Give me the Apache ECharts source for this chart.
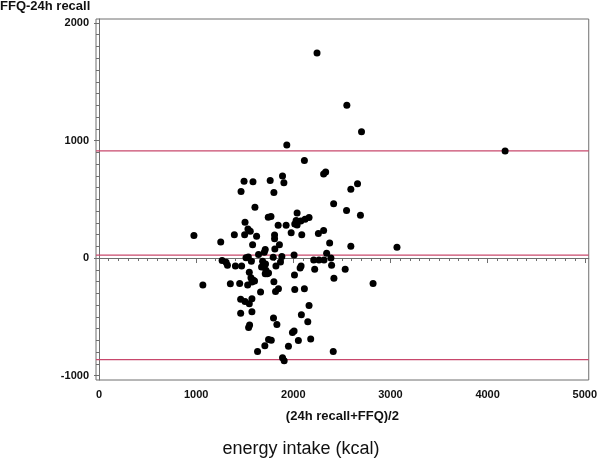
<!DOCTYPE html>
<html>
<head>
<meta charset="utf-8">
<script src="https://cdn.jsdelivr.net/npm/echarts@6/dist/echarts.min.js"></script>
<style>html,body{margin:0;padding:0;background:#fff}#c{width:600px;height:460px}</style>
</head>
<body>
<div id="c"></div>
<script>
// mean of (24h recall + FFQ)/2
var meanIntake = [977,1069,1253,1267,1308,1322,1352,1393,1404,1448,1458,1458,1462,1468,1493,1499,1503,1503,1513,1530,1533,1537,1540,1547,1547,1550,1557,1564,1568,1574,1574,1574,1581,1585,1588,1601,1605,1622,1632,1642,1663,1673,1684,1701,1707,1711,1711,1714,1718,1732,1742,1745,1745,1762,1770,1773,1793,1796,1800,1800,1807,1807,1810,1817,1821,1831,1844,1847,1857,1868,1882,1889,1889,1903,1906,1926,1933,1950,1978,1991,2008,2008,2012,2015,2015,2029,2039,2039,2052,2070,2077,2080,2083,2087,2114,2114,2121,2149,2162,2162,2179,2210,2220,2244,2258,2264,2312,2312,2316,2333,2343,2374,2387,2394,2411,2415,2418,2534,2548,2551,2592,2592,2661,2691,2702,2821,3067,4180];
// difference FFQ - 24h recall
var diffIntake = [191,-230,136,-22,-37,-62,-218,199,-68,-216,-350,-469,566,-68,654,199,304,-369,3,-230,247,9,-591,-389,-122,-571,228,-167,-28,-205,-346,-457,114,648,-190,-196,432,185,-795,30,-290,-77,-28,49,-747,72,-133,-51,-105,-133,347,-128,-693,660,353,-699,6,-511,557,-201,196,165,77,-284,-68,-565,279,-261,114,-34,14,699,-849,640,-875,279,961,-750,216,-633,26,-622,-145,290,-267,319,384,281,-702,-85,316,-68,-483,199,830,-261,330,-542,344,-403,-690,-17,-96,1745,208,-17,716,234,-17,731,40,128,0,-62,-795,462,-172,-96,404,1299,586,100,631,364,1074,-216,91,910];
// mean difference and limits of agreement
var limitLines = [912, 24, -864];
var xTickLabels = [0, 1000, 2000, 3000, 4000, 5000];
var yTickLabels = [-1000, 0, 1000, 2000];

var xMinor = [], yMinor = [];
for (var v = 0; v <= 5000; v += 100) { if (v % 1000 !== 0) xMinor.push(v); }
for (var w = -1000; w <= 2000; w += 100) { if (w % 1000 !== 0) yMinor.push(w); }

var points = meanIntake.map(function (m, i) { return [m, diffIntake[i]]; });

var FONT = "'Liberation Sans', Arial, sans-serif";
var axisCol = '#6e6e6e';
var lineCol = '#c8486c';
var XMIN = -31, XMAX = 5041, YMIN = -1038, YMAX = 2034;
var plain = function (val) { return String(val); };
var blank = function () { return ''; };

var limitSeries = limitLines.map(function (l) {
  return {
    type: 'line', xAxisIndex: 0, yAxisIndex: 0,
    data: [[XMIN, l], [XMAX, l]],
    symbol: 'none', silent: true, z: 2,
    lineStyle: {color: lineCol, width: 1.3, type: 'solid'},
    itemStyle: {color: lineCol},
    emphasis: {disabled: true}
  };
});

var chart = echarts.init(document.getElementById('c'), null, {renderer: 'canvas'});
chart.setOption({
  animation: false,
  backgroundColor: '#fff',
  title: [
    {text: 'FFQ-24h recall', left: 0, top: 0, padding: 0,
     textStyle: {fontFamily: FONT, fontSize: 13, fontWeight: 'bold', color: '#111'}},
    {text: 'energy intake (kcal)', left: 301, top: 440, padding: 0, textAlign: 'center',
     textStyle: {fontFamily: FONT, fontSize: 18, fontWeight: 'normal', color: '#111'}}
  ],
  grid: {left: 96, right: 9, top: 19, bottom: 80, show: true,
         borderColor: axisCol, borderWidth: 1, backgroundColor: 'transparent'},
  xAxis: [
    {type: 'value', min: XMIN, max: XMAX, position: 'bottom',
     name: '(24h recall+FFQ)/2', nameLocation: 'middle', nameGap: 30,
     nameTextStyle: {fontFamily: FONT, fontSize: 13, fontWeight: 'bold', color: '#111'},
     axisLine: {show: true, lineStyle: {color: axisCol, width: 1}},
     axisTick: {show: true, length: 5, customValues: xTickLabels, lineStyle: {color: axisCol}},
     axisLabel: {customValues: xTickLabels, formatter: plain, margin: 9, fontFamily: FONT, fontSize: 11, fontWeight: 'bold', color: '#111'},
     splitLine: {show: false}},
    {type: 'value', min: XMIN, max: XMAX, position: 'bottom', offset: 0,
     axisLine: {show: true, lineStyle: {color: 'rgba(0,0,0,0)'}},
     axisTick: {show: true, length: 3, customValues: xMinor, lineStyle: {color: axisCol}},
     axisLabel: {show: true, customValues: xMinor, formatter: blank}, splitLine: {show: false}}
  ],
  yAxis: [
    {type: 'value', min: YMIN, max: YMAX, position: 'left',
     axisLine: {show: true, lineStyle: {color: axisCol, width: 1}},
     axisTick: {show: true, length: 5, customValues: yTickLabels, lineStyle: {color: axisCol}},
     axisLabel: {customValues: yTickLabels, formatter: plain, margin: 7, fontFamily: FONT, fontSize: 11, fontWeight: 'bold', color: '#111'},
     splitLine: {show: false}},
    {type: 'value', min: YMIN, max: YMAX, position: 'left', offset: 0,
     axisLine: {show: true, lineStyle: {color: 'rgba(0,0,0,0)'}},
     axisTick: {show: true, length: 3, customValues: yMinor, lineStyle: {color: axisCol}},
     axisLabel: {show: true, customValues: yMinor, formatter: blank}, splitLine: {show: false}}
  ],
  series: limitSeries.concat([{
    type: 'scatter',
    xAxisIndex: 0, yAxisIndex: 0,
    data: points,
    symbol: 'circle',
    symbolSize: 7,
    itemStyle: {color: '#000', opacity: 1},
    z: 3
  }])
});
</script>
</body>
</html>
